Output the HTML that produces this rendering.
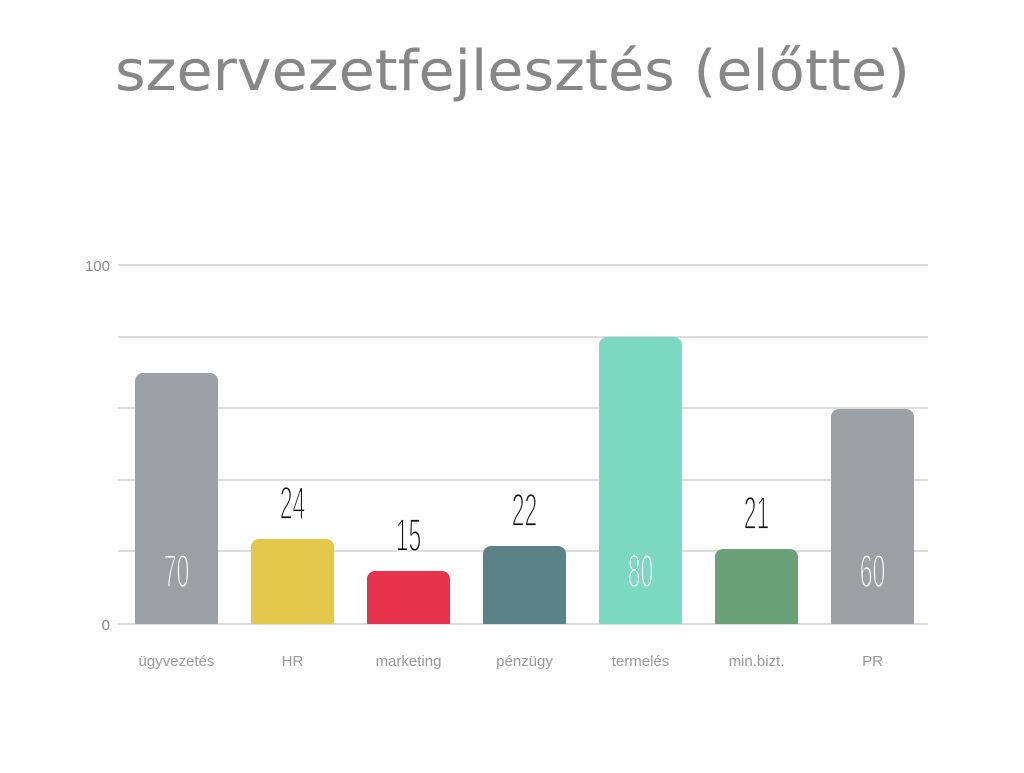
<!DOCTYPE html>
<html><head><meta charset="utf-8"><style>
body{margin:0;background:#fff;width:1024px;height:768px;overflow:hidden}
</style></head><body>
<svg width="1024" height="768" xmlns="http://www.w3.org/2000/svg" font-family="Liberation Sans, sans-serif">
<text x="115" y="90" font-family="DejaVu Sans, sans-serif" font-size="56" fill="#878787" textLength="795" lengthAdjust="spacingAndGlyphs">szervezetfejlesztés (előtte)</text>
<g stroke="#dcdcdc" stroke-width="2">
<line x1="118" y1="265" x2="928" y2="265"/><line x1="118" y1="337" x2="928" y2="337"/>
<line x1="118" y1="408" x2="928" y2="408"/><line x1="118" y1="480" x2="928" y2="480"/>
<line x1="118" y1="551" x2="928" y2="551"/><line x1="118" y1="624" x2="928" y2="624"/>
</g>
<g font-size="15" fill="#888" text-anchor="end">
<text x="110" y="271">100</text><text x="110" y="630">0</text>
</g>
<g>
<path d="M135 624V381a8 8 0 0 1 8-8h67a8 8 0 0 1 8 8V624z" fill="#9aa0a4"/>
<path d="M251 624V547a8 8 0 0 1 8-8h67a8 8 0 0 1 8 8V624z" fill="#e4c84b"/>
<path d="M367 624V579a8 8 0 0 1 8-8h67a8 8 0 0 1 8 8V624z" fill="#e8334e"/>
<path d="M483 624V554a8 8 0 0 1 8-8h67a8 8 0 0 1 8 8V624z" fill="#5b8287"/>
<path d="M599 624V345a8 8 0 0 1 8-8h67a8 8 0 0 1 8 8V624z" fill="#7bd9c2"/>
<path d="M715 624V557a8 8 0 0 1 8-8h67a8 8 0 0 1 8 8V624z" fill="#6ba176"/>
<path d="M831 624V417a8 8 0 0 1 8-8h67a8 8 0 0 1 8 8V624z" fill="#9aa0a4"/>
</g>
<g font-size="46" text-anchor="middle" stroke-width="1.7">
<text transform="translate(176.5,587) scale(0.5,1)" fill="#fff" stroke="#9aa0a4">70</text>
<text transform="translate(292.5,519) scale(0.5,1)" fill="#111" stroke="#fff">24</text>
<text transform="translate(408.5,551) scale(0.5,1)" fill="#111" stroke="#fff">15</text>
<text transform="translate(524.5,526) scale(0.5,1)" fill="#111" stroke="#fff">22</text>
<text transform="translate(640.5,587) scale(0.5,1)" fill="#fff" stroke="#7bd9c2">80</text>
<text transform="translate(756.5,529) scale(0.5,1)" fill="#111" stroke="#fff">21</text>
<text transform="translate(872.5,587) scale(0.5,1)" fill="#fff" stroke="#9aa0a4">60</text>
</g>
<g font-size="15" fill="#999" text-anchor="middle">
<text x="176.5" y="666">ügyvezetés</text><text x="292.5" y="666">HR</text>
<text x="408.5" y="666">marketing</text><text x="524.5" y="666">pénzügy</text>
<text x="640.5" y="666">termelés</text><text x="756.5" y="666">min.bizt.</text>
<text x="872.5" y="666">PR</text>
</g>
</svg>
</body></html>
